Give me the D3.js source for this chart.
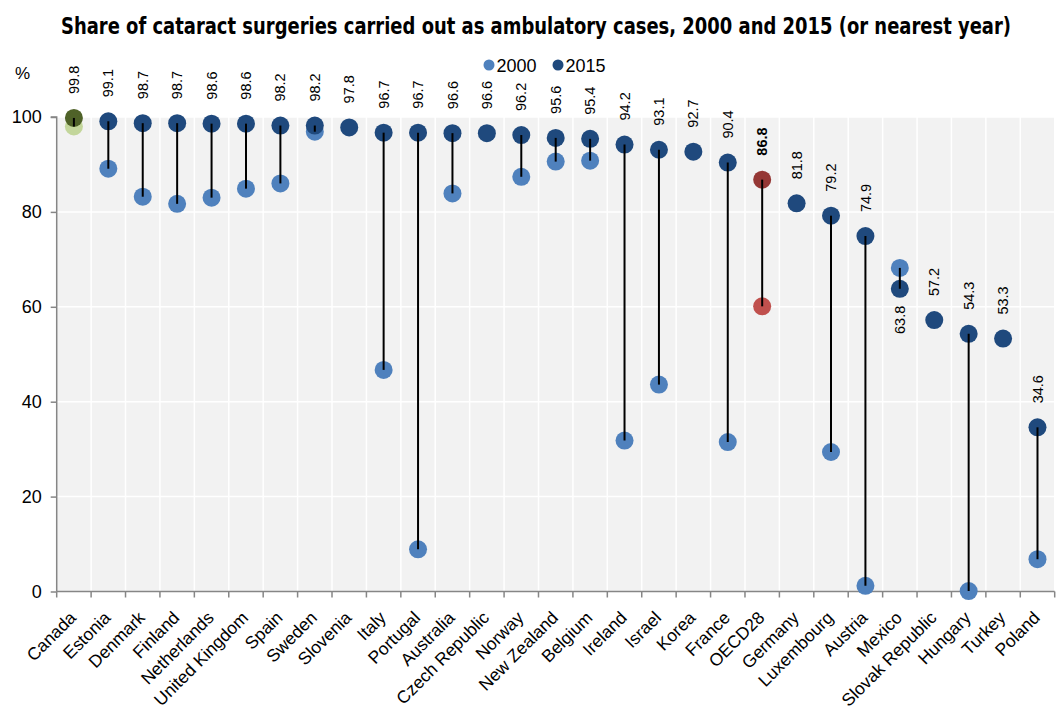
<!DOCTYPE html>
<html>
<head>
<meta charset="utf-8">
<script src="https://cdn.jsdelivr.net/npm/d3@7"></script>
<style>
  body { margin: 0; background: #fff; }
  svg text { font-family: "Liberation Sans", Arial, sans-serif; fill: #000; }
</style>
</head>
<body>
<div id="chart"></div>
<script>
// data
var countries = ["Canada", "Estonia", "Denmark", "Finland", "Netherlands", "United Kingdom", "Spain",
  "Sweden", "Slovenia", "Italy", "Portugal", "Australia", "Czech Republic", "Norway", "New Zealand",
  "Belgium", "Ireland", "Israel", "Korea", "France", "OECD28", "Germany", "Luxembourg", "Austria",
  "Mexico", "Slovak Republic", "Hungary", "Turkey", "Poland"];
var v2015 = [99.8, 99.1, 98.7, 98.7, 98.6, 98.6, 98.2, 98.2, 97.8, 96.7, 96.7, 96.6, 96.6, 96.2, 95.6,
  95.4, 94.2, 93.1, 92.7, 90.4, 86.8, 81.8, 79.2, 74.9, 63.8, 57.2, 54.3, 53.3, 34.6];
var v2000 = [98.0, 89.1, 83.2, 81.7, 83.0, 84.9, 86.0, 96.9, null, 46.7, 8.9, 83.9, null, 87.4, 90.6,
  90.8, 31.8, 43.6, null, 31.5, 60.1, null, 29.4, 1.2, 68.2, null, 0.1, null, 6.8];
var yTicks = [0, 20, 40, 60, 80, 100];
var years = ["2000", "2015"];

var w = 1060, h = 706;
var plotL = 56.7, plotR = 1054.7, plotT = 117, plotB = 591.5;

var svg = d3.select("#chart").append("svg")
  .attr("width", w)
  .attr("height", h);

var x = d3.scaleBand().domain(countries).range([plotL, plotR]).padding(0);
var y = d3.scaleLinear().domain([0, 100]).range([plotB, plotT]);

function col2015(c) {
  if (c == "Canada") return "#4f6228";
  if (c == "OECD28") return "#953735";
  return "#1f497d";
}
function col2000(c) {
  if (c == "Canada") return "#c3d69b";
  if (c == "OECD28") return "#c0504d";
  return "#4f81bd";
}

// title
svg.append("text")
  .attr("x", 536).attr("y", 34)
  .attr("text-anchor", "middle")
  .attr("textLength", 950)
  .attr("lengthAdjust", "spacingAndGlyphs")
  .style("font-family", "'Liberation Sans Narrow', 'Arial Narrow', 'DejaVu Sans Condensed', sans-serif")
  .style("font-weight", "bold")
  .style("font-size", "23px")
  .text("Share of cataract surgeries carried out as ambulatory cases, 2000 and 2015 (or nearest year)");

// legend
var legend = svg.append("g");
var legX = [489, 558];
legend.selectAll("circle")
  .data(years)
  .enter()
  .append("circle")
  .attr("cx", function(d, i) { return legX[i]; })
  .attr("cy", 65)
  .attr("r", 5.5)
  .attr("fill", function(d, i) { return i == 0 ? "#4f81bd" : "#1f497d"; });
legend.selectAll("text")
  .data(years)
  .enter()
  .append("text")
  .attr("x", function(d, i) { return legX[i] + 7.5; })
  .attr("y", 71.5)
  .style("font-size", "18px")
  .text(function(d) { return d; });

// plot background
svg.append("rect")
  .attr("x", plotL).attr("y", plotT)
  .attr("width", plotR - plotL).attr("height", plotB - plotT)
  .attr("fill", "#f2f2f2");

// horizontal gridlines
svg.selectAll(".hgrid")
  .data(yTicks.filter(function(d) { return d > 0; }))
  .enter()
  .append("line")
  .attr("class", "hgrid")
  .attr("x1", plotL).attr("x2", plotR)
  .attr("y1", function(d) { return y(d); })
  .attr("y2", function(d) { return y(d); })
  .attr("stroke", "#fff")
  .attr("stroke-width", 1.5);

// vertical separators between categories
var bounds = countries.map(function(c) { return x(c); }).concat([x(countries[countries.length - 1]) + x.bandwidth()]);
svg.selectAll(".vgrid")
  .data(bounds.slice(1))
  .enter()
  .append("line")
  .attr("class", "vgrid")
  .attr("x1", function(d) { return d; })
  .attr("x2", function(d) { return d; })
  .attr("y1", plotT).attr("y2", plotB)
  .attr("stroke", "#fff")
  .attr("stroke-width", 1.5);

// y axis
var yAxis = svg.append("g")
  .attr("transform", "translate(" + plotL + ",0)")
  .call(d3.axisLeft(y).tickValues(yTicks).tickSize(6).tickPadding(9).tickFormat(d3.format("d")));
yAxis.select(".domain").attr("stroke", "#868686").attr("stroke-width", 1.5).attr("d", "M-6," + plotT + "H0V" + plotB);
yAxis.selectAll(".tick line").attr("stroke", "#868686").attr("stroke-width", 1.5);
yAxis.selectAll(".tick text")
  .style("font-size", "18px")
  .style("font-family", "'Liberation Sans', Arial, sans-serif")
  .attr("fill", "#000");

svg.append("text")
  .attr("x", 15).attr("y", 79)
  .style("font-size", "17px")
  .text("%");

// x axis line and ticks at category boundaries
svg.append("line")
  .attr("x1", plotL).attr("x2", plotR)
  .attr("y1", plotB).attr("y2", plotB)
  .attr("stroke", "#868686")
  .attr("stroke-width", 1.5);
svg.selectAll(".xtick")
  .data(bounds)
  .enter()
  .append("line")
  .attr("class", "xtick")
  .attr("x1", function(d) { return d; })
  .attr("x2", function(d) { return d; })
  .attr("y1", plotB).attr("y2", plotB + 6)
  .attr("stroke", "#868686")
  .attr("stroke-width", 1.5);

// category labels
svg.selectAll(".xlab")
  .data(countries)
  .enter()
  .append("text")
  .attr("class", "xlab")
  .attr("text-anchor", "end")
  .attr("transform", function(d) {
    return "translate(" + (x(d) + x.bandwidth() / 2 - 1) + "," + (plotB + 23) + ") rotate(-45)";
  })
  .attr("dy", "0.35em")
  .style("font-size", "17.5px")
  .text(function(d) { return d; });

var cx = function(i) { return x(countries[i]) + x.bandwidth() / 2; };
var idx = d3.range(countries.length);

// 2000 dots
svg.selectAll(".d2000")
  .data(idx.filter(function(i) { return v2000[i] != null; }))
  .enter()
  .append("circle")
  .attr("class", "d2000")
  .attr("cx", cx)
  .attr("cy", function(i) { return y(v2000[i]); })
  .attr("r", 9)
  .attr("fill", function(i) { return col2000(countries[i]); });

// 2015 dots
svg.selectAll(".d2015")
  .data(idx)
  .enter()
  .append("circle")
  .attr("class", "d2015")
  .attr("cx", cx)
  .attr("cy", function(i) { return y(v2015[i]); })
  .attr("r", 9)
  .attr("fill", function(i) { return col2015(countries[i]); });

// connecting lines
svg.selectAll(".link")
  .data(idx.filter(function(i) { return v2000[i] != null; }))
  .enter()
  .append("line")
  .attr("class", "link")
  .attr("x1", cx).attr("x2", cx)
  .attr("y1", function(i) { return y(v2000[i]); })
  .attr("y2", function(i) { return y(v2015[i]); })
  .attr("stroke", "#000")
  .attr("stroke-width", 2);

// value labels for 2015
svg.selectAll(".vlab")
  .data(idx)
  .enter()
  .append("text")
  .attr("class", "vlab")
  .attr("text-anchor", function(i) { return v2000[i] != null && v2000[i] > v2015[i] ? "end" : "start"; })
  .attr("transform", function(i) {
    var below = v2000[i] != null && v2000[i] > v2015[i];
    var yy = below ? y(v2015[i]) + 17 : y(v2015[i]) - 24;
    return "translate(" + cx(i) + "," + yy + ") rotate(-90)";
  })
  .attr("dy", "0.35em")
  .style("font-size", "14.5px")
  .style("font-weight", function(i) { return countries[i] == "OECD28" ? "bold" : "normal"; })
  .text(function(i) { return v2015[i].toFixed(1); });
</script>
</body>
</html>
